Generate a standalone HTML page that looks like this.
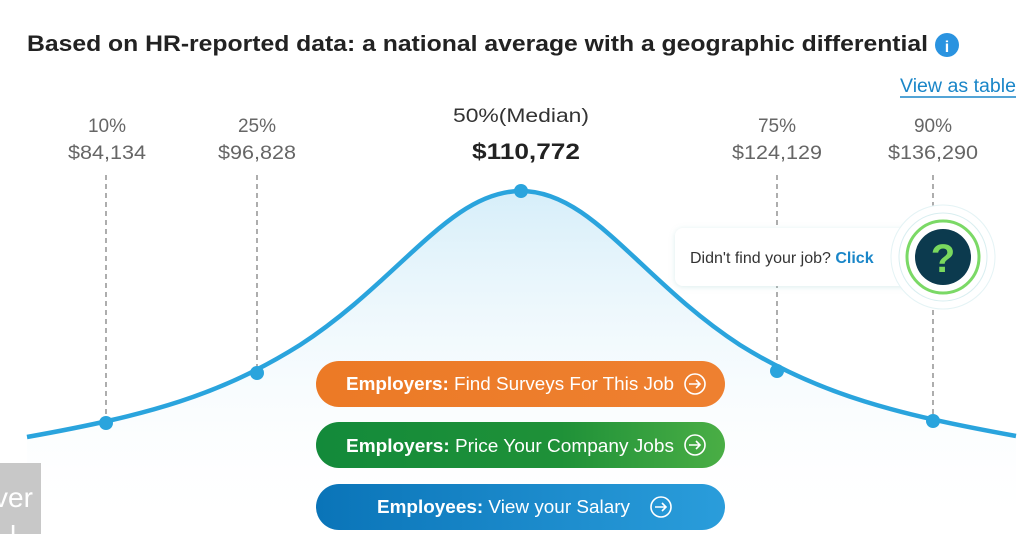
<!DOCTYPE html>
<html><head><meta charset="utf-8"><style>
html,body{margin:0;padding:0;background:#fff;width:1024px;height:534px;overflow:hidden}
svg{display:block}
text{font-family:"Liberation Sans",sans-serif}
</style></head><body>
<svg width="1024" height="534" viewBox="0 0 1024 534" xmlns="http://www.w3.org/2000/svg">
<defs>
<linearGradient id="fill" x1="0" y1="0" x2="0" y2="1">
<stop offset="0" stop-color="#d6eef9"/><stop offset="1" stop-color="#ffffff" stop-opacity="0"/>
</linearGradient>
<linearGradient id="og" x1="0" x2="1"><stop offset="0" stop-color="#ec7a26"/><stop offset="1" stop-color="#ee8030"/></linearGradient>
<linearGradient id="gg" x1="0" x2="1"><stop offset="0" stop-color="#138a3a"/><stop offset="0.6" stop-color="#1f9138"/><stop offset="1" stop-color="#4aae45"/></linearGradient>
<linearGradient id="bg" x1="0" x2="1"><stop offset="0" stop-color="#0a74b8"/><stop offset="1" stop-color="#2a9ddb"/></linearGradient>
<filter id="sh" x="-10%" y="-30%" width="120%" height="160%"><feDropShadow dx="0" dy="1" stdDeviation="3" flood-color="#9cc" flood-opacity="0.35"/></filter>
</defs>
<text x="27" y="51" font-size="22" font-weight="bold" fill="#222" textLength="901" lengthAdjust="spacingAndGlyphs">Based on HR-reported data: a national average with a geographic differential</text>
<circle cx="947" cy="45" r="12" fill="#2a93e0"/>
<text x="947" y="52" font-size="16" font-weight="bold" fill="#fff" text-anchor="middle" font-family="Liberation Serif,serif">i</text>
<text x="1016" y="92" font-size="19" fill="#1a86c8" text-anchor="end" textLength="116" lengthAdjust="spacingAndGlyphs">View as table</text>
<line x1="900" y1="97" x2="1016" y2="97" stroke="#1a86c8" stroke-width="1.5"/>

<g font-size="19" fill="#666" text-anchor="middle">
<text x="107" y="132">10%</text><text x="107" y="159" textLength="78" lengthAdjust="spacingAndGlyphs">$84,134</text>
<text x="257" y="132">25%</text><text x="257" y="159" textLength="78" lengthAdjust="spacingAndGlyphs">$96,828</text>
<text x="777" y="132">75%</text><text x="777" y="159" textLength="90" lengthAdjust="spacingAndGlyphs">$124,129</text>
<text x="933" y="132">90%</text><text x="933" y="159" textLength="90" lengthAdjust="spacingAndGlyphs">$136,290</text>
</g>
<text x="521" y="122" font-size="19" fill="#333" text-anchor="middle" textLength="136" lengthAdjust="spacingAndGlyphs">50%(Median)</text>
<text x="526" y="159" font-size="22" font-weight="bold" fill="#222" text-anchor="middle" textLength="108" lengthAdjust="spacingAndGlyphs">$110,772</text>

<g stroke="#777" stroke-width="1.2" stroke-dasharray="5,4">
<line x1="106" y1="175" x2="106" y2="420"/>
<line x1="257" y1="175" x2="257" y2="370"/>
<line x1="777" y1="175" x2="777" y2="368"/>
<line x1="933" y1="175" x2="933" y2="418"/>
</g>

<path d="M27,437 C150,415 220,395 300,345 C400,280 450,191 521,191 C592,191 640,280 740,345 C820,395 900,415 1016,436 L1016,534 L27,534 Z" fill="url(#fill)"/>
<path d="M27,437 C150,415 220,395 300,345 C400,280 450,191 521,191 C592,191 640,280 740,345 C820,395 900,415 1016,436" fill="none" stroke="#2aa4dd" stroke-width="4.5"/>
<g fill="#2aa4dd">
<circle cx="106" cy="423" r="7"/><circle cx="257" cy="373" r="7"/><circle cx="521" cy="191" r="7"/><circle cx="777" cy="371" r="7"/><circle cx="933" cy="421" r="7"/>
</g>

<rect x="675" y="228" width="245" height="58" rx="8" fill="#fff" filter="url(#sh)"/>
<text x="690" y="263" font-size="16" fill="#333">Didn't find your job? <tspan fill="#1a86c8" font-weight="bold">Click</tspan></text>
<circle cx="943" cy="257" r="52" fill="#fff" stroke="#e4f3f5" stroke-width="1"/>
<circle cx="943" cy="257" r="44" fill="#fff" stroke="#d8eef0" stroke-width="1"/>
<circle cx="943" cy="257" r="36" fill="#fff" stroke="#7bd966" stroke-width="3"/>
<circle cx="943" cy="257" r="28" fill="#0c3a4e"/>
<text x="943" y="272" font-size="40" font-weight="bold" fill="#7ad95e" text-anchor="middle">?</text>

<rect x="316" y="361" width="409" height="46" rx="23" fill="url(#og)"/>
<rect x="316" y="422" width="409" height="46" rx="23" fill="url(#gg)"/>
<rect x="316" y="484" width="409" height="46" rx="23" fill="url(#bg)"/>
<g font-size="18" fill="#fff">
<text x="346" y="390" textLength="328" lengthAdjust="spacingAndGlyphs"><tspan font-weight="bold">Employers:</tspan> Find Surveys For This Job</text>
<text x="346" y="452" textLength="328" lengthAdjust="spacingAndGlyphs"><tspan font-weight="bold">Employers:</tspan> Price Your Company Jobs</text>
<text x="377" y="513" textLength="253" lengthAdjust="spacingAndGlyphs"><tspan font-weight="bold">Employees:</tspan> View your Salary</text>
</g>
<g fill="none" stroke="#fff" stroke-width="1.6">
<circle cx="695" cy="384" r="10"/><path d="M689,384 h11 M696,380 l4,4 l-4,4"/>
<circle cx="695" cy="445" r="10"/><path d="M689,445 h11 M696,441 l4,4 l-4,4"/>
<circle cx="661" cy="507" r="10"/><path d="M655,507 h11 M662,503 l4,4 l-4,4"/>
</g>

<rect x="0" y="463" width="41" height="71" fill="#c8c8c8"/>
<text x="-6" y="507" font-size="28" fill="#fff" font-family="Liberation Serif,serif">ver</text>
<text x="10" y="545" font-size="28" fill="#fff" font-family="Liberation Serif,serif">l</text>
</svg>
</body></html>
